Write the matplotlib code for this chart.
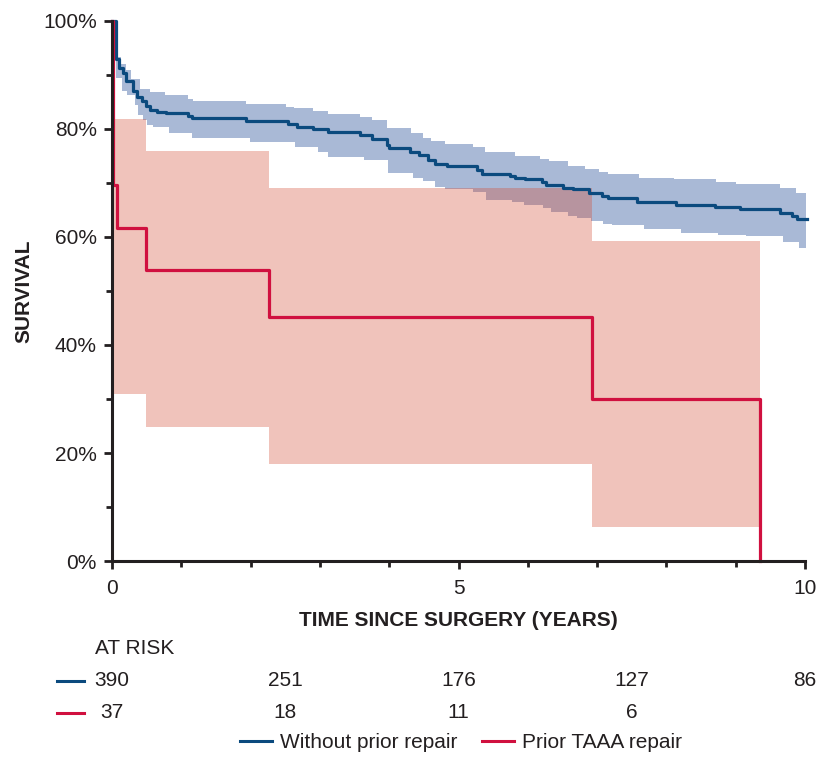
#!/usr/bin/env python3
"""Kaplan-Meier survival: prior TAAA repair vs without prior repair."""

from __future__ import annotations

import matplotlib

matplotlib.use("Agg")

import matplotlib.pyplot as plt
import matplotlib.transforms as mtransforms
import numpy as np
from matplotlib.lines import Line2D

# Without prior repair: KM step curve (years, survival %)
blue_t = [0, 0.06, 0.105, 0.154, 0.202, 0.307, 0.356, 0.429, 0.486, 0.548,
          0.645, 0.775, 1.101, 1.150, 1.929, 2.544, 2.665, 2.905, 3.121, 3.579,
          3.747, 3.964, 4.001, 4.300, 4.434, 4.564, 4.661, 4.830, 5.263, 5.335,
          5.743, 5.815, 5.960, 6.201, 6.263, 6.512, 6.657, 6.887, 7.066, 7.157,
          7.571, 8.139, 8.701, 9.062, 9.639, 9.808, 9.880, 10.03]
blue_s = [100, 92.9, 91.2, 90.3, 88.9, 87.0, 85.9, 85.2, 84.3, 83.5,
          83.2, 83.0, 82.4, 82.0, 81.5, 80.9, 80.4, 80.0, 79.4, 78.9,
          78.1, 77.0, 76.4, 75.7, 75.1, 74.3, 73.6, 73.1, 72.4, 71.7,
          71.3, 70.9, 70.7, 70.1, 69.6, 69.1, 68.8, 68.1, 67.5, 67.2,
          66.4, 66.0, 65.6, 65.1, 64.5, 63.9, 63.3, 63.3]

# Without prior repair: confidence band edges
blue_up_t = [0.06, 0.13, 0.20, 0.27, 0.40, 0.55, 0.76, 1.10, 1.17, 1.93,
             2.51, 2.62, 2.90, 3.12, 3.58, 3.75, 3.97, 4.31, 4.48, 4.60,
             4.81, 5.21, 5.38, 5.82, 6.17, 6.31, 6.58, 6.83, 7.03, 7.16,
             7.60, 8.11, 8.72, 9.00, 9.64, 9.87]
blue_up = [93.3, 92.0, 91.0, 89.3, 87.4, 86.8, 86.3, 85.5, 85.2, 84.7,
           84.0, 83.8, 83.4, 82.8, 82.2, 81.7, 80.1, 79.2, 78.4, 77.7,
           77.2, 76.6, 75.7, 75.0, 74.4, 74.1, 73.2, 72.5, 72.1, 71.7,
           71.0, 70.7, 70.2, 69.8, 69.0, 68.1]
blue_lo_t = [0.06, 0.14, 0.22, 0.33, 0.38, 0.45, 0.51, 0.59, 0.82, 1.16,
             1.99, 2.64, 2.97, 3.12, 3.64, 3.98, 4.34, 4.48, 4.66, 4.80,
             5.21, 5.40, 5.77, 5.94, 6.22, 6.34, 6.58, 6.71, 6.91, 7.08,
             7.21, 7.67, 8.21, 8.75, 9.15, 9.68, 9.91]
blue_lo = [89.5, 87.1, 86.3, 84.4, 82.6, 81.7, 80.7, 80.3, 79.2, 78.3,
           77.5, 76.7, 75.8, 74.9, 74.3, 71.9, 70.9, 70.4, 69.2, 68.9,
           68.4, 66.9, 66.5, 65.9, 65.3, 64.7, 63.9, 63.5, 63.0, 62.4,
           62.2, 61.5, 60.7, 60.4, 60.1, 59.0, 57.9]
BLUE_END = 10.03

# Prior TAAA repair
red_t = [0, 0.02, 0.07, 0.49, 2.27, 6.92, 9.35]
red_s = [100, 69.6, 61.7, 53.9, 45.1, 30.0, 0]
red_ci_t = [0.02, 0.49, 2.27, 6.92, 9.35]
red_up = [81.8, 76.0, 69.1, 59.3, 59.3]
red_lo = [30.9, 24.9, 18.0, 6.3, 6.3]

# Numbers at risk
risk_years = [0, 2.5, 5, 7.5, 10]
risk_blue = ["390", "251", "176", "127", "86"]
risk_red = ["37", "18", "11", "6"]

BLUE = "#0b4a7e"
RED = "#d0103f"
INK = "#231f20"


def step_at(t_src, v_src, t):
    idx = np.searchsorted(np.asarray(t_src), t, side="right") - 1
    return np.asarray(v_src)[idx]


def main() -> None:
    plt.rcParams["font.family"] = ["Liberation Sans", "DejaVu Sans"]
    plt.rcParams["font.size"] = 15

    fig = plt.figure(figsize=(8.19, 7.57), dpi=100)
    ax = fig.add_axes([0.1368, 0.2589, 0.8462, 0.7134])

    # Confidence bands
    t_band = np.append(np.union1d(blue_up_t, blue_lo_t), BLUE_END)
    ax.fill_between(t_band, step_at(blue_lo_t, blue_lo, t_band),
                    step_at(blue_up_t, blue_up, t_band), step="post",
                    color="#4a6aa8", alpha=0.47, lw=0, zorder=1)
    ax.fill_between(red_ci_t, red_lo, red_up, step="post",
                    color="#d44931", alpha=0.33, lw=0, zorder=2)

    # Survival curves
    ax.step(blue_t, blue_s, where="post", color=BLUE, lw=2.3, zorder=3,
            clip_on=False)
    ax.step(red_t, red_s, where="post", color=RED, lw=2.3, zorder=4,
            clip_on=False)

    ax.set_xlim(0, 10)
    ax.set_ylim(0, 100)
    ax.set_xticks([0, 5, 10])
    ax.set_xticks(range(11), minor=True)
    ax.set_yticks(range(0, 101, 20))
    ax.set_yticklabels([f"{v}%" for v in range(0, 101, 20)])
    ax.set_yticks(range(10, 100, 20), minor=True)
    for side in ("top", "right"):
        ax.spines[side].set_visible(False)
    for side in ("left", "bottom"):
        ax.spines[side].set_color(INK)
        ax.spines[side].set_linewidth(2.2)
        ax.spines[side].set_zorder(5)
    ax.tick_params(which="major", length=6, width=2, color=INK,
                   labelcolor=INK, labelsize=15)
    ax.tick_params(axis="x", which="major", pad=7)
    ax.tick_params(axis="y", which="major", pad=5)
    ax.tick_params(which="minor", length=4, width=2, color=INK)

    ax.set_xlabel("TIME SINCE SURGERY (YEARS)", fontweight="bold", color=INK,
                  labelpad=9)
    ax.set_ylabel("SURVIVAL", fontweight="bold", color=INK, labelpad=7)

    # Numbers at risk table
    trans = mtransforms.blended_transform_factory(ax.transData, fig.transFigure)
    fig.text(95 / 819, 1 - 648 / 757, "AT RISK", color=INK, va="center",
             ha="left")
    y_rows = [1 - 681 / 757, 1 - 713 / 757]
    for y, labels, color in [(y_rows[0], risk_blue, BLUE),
                             (y_rows[1], risk_red, RED)]:
        for x, lab in zip(risk_years, labels):
            ax.text(x, y, lab, transform=trans, ha="center", va="center",
                    color=INK)
        fig.add_artist(Line2D([57 / 819, 84 / 819], [y, y], color=color,
                              lw=2.2, transform=fig.transFigure))

    handles = [Line2D([], [], color=BLUE, lw=2.2),
               Line2D([], [], color=RED, lw=2.2)]
    fig.legend(handles, ["Without prior repair", "Prior TAAA repair"],
               loc="center", bbox_to_anchor=(0.563, 1 - 743 / 757), ncol=2,
               frameon=False, handlelength=1.5, handletextpad=0.4,
               columnspacing=1.2, labelcolor=INK, fontsize=15)

    fig.savefig("out.png", dpi=100)
    plt.close(fig)


if __name__ == "__main__":
    main()
